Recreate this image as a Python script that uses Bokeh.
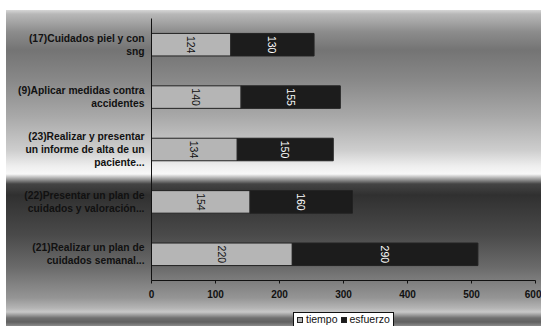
from bokeh.plotting import figure
from bokeh.models import Range1d, FactorRange, ColumnDataSource, SingleIntervalTicker, Div
from bokeh.layouts import column
from bokeh.embed import file_html
from bokeh.resources import INLINE
from bokeh.core.properties import value
import math

categories = [
    "(17)Cuidados piel y con\nsng",
    "(9)Aplicar medidas contra\naccidentes",
    "(23)Realizar y presentar\nun informe de alta de un\npaciente...",
    "(22)Presentar un plan de\ncuidados y valoración...",
    "(21)Realizar un plan de\ncuidados semanal...",
]
tiempo = [124, 140, 134, 154, 220]
esfuerzo = [130, 155, 150, 160, 290]
series_names = ["tiempo", "esfuerzo"]
series_colors = ["#b5b5b5", "#1c1c1c"]
x_ticks_interval = 100

FONT = "Liberation Sans"

src = ColumnDataSource(dict(
    cat=categories,
    tiempo=tiempo,
    esfuerzo=esfuerzo,
    t_mid=[t / 2 for t in tiempo],
    e_mid=[t + e / 2 for t, e in zip(tiempo, esfuerzo)],
    t_lab=[str(t) for t in tiempo],
    e_lab=[str(e) for e in esfuerzo],
))

p = figure(
    width=541, height=310,
    y_range=FactorRange(factors=list(reversed(categories))),
    x_range=Range1d(0, 600),
    output_backend="svg", toolbar_location=None,
    min_border_left=151, min_border_right=6, min_border_top=18, min_border_bottom=30,
)
p.border_fill_color = None
p.background_fill_color = None
p.outline_line_color = None

r = p.hbar_stack(
    ["tiempo", "esfuerzo"], y="cat", height=0.43, source=src,
    color=series_colors, line_color="#222222", line_width=1,
)

p.text(x="t_mid", y="cat", text="t_lab", source=src, angle=-math.pi / 2,
       text_align="center", text_baseline="middle", text_color="#111111",
       text_font=value(FONT), text_font_size="10.5px")
p.text(x="e_mid", y="cat", text="e_lab", source=src, angle=-math.pi / 2,
       text_align="center", text_baseline="middle", text_color="#ffffff",
       text_font=value(FONT), text_font_size="10.5px")

p.xgrid.visible = False
p.ygrid.visible = False

p.xaxis.ticker = SingleIntervalTicker(interval=x_ticks_interval)
p.xaxis.axis_line_color = "#111111"
p.xaxis.major_tick_line_color = "#111111"
p.xaxis.major_tick_in = 0
p.xaxis.major_tick_out = 3
p.xaxis.minor_tick_line_color = None
p.xaxis.major_label_standoff = 5
p.xaxis.major_label_text_font = FONT
p.xaxis.major_label_text_font_style = "bold"
p.xaxis.major_label_text_font_size = "10px"
p.xaxis.major_label_text_color = "#111111"

p.yaxis.axis_line_color = "#111111"
p.yaxis.major_tick_line_color = None
p.yaxis.major_tick_in = 0
p.yaxis.major_tick_out = 0
p.yaxis.major_label_standoff = 7
p.yaxis.major_label_text_font = FONT
p.yaxis.major_label_text_font_style = "bold"
p.yaxis.major_label_text_font_size = "10.3px"
p.yaxis.major_label_text_color = "#111111"

sw = ("display:inline-block;width:6px;height:6px;border:1px solid #222;"
      "margin:0 3px 0 0;vertical-align:0px;background:{c};")
items_html = "".join(
    f'<span style="{sw.format(c=c)}"></span><span style="margin-right:3px">{n}</span>'
    for n, c in zip(series_names, series_colors)
)
legend_html = (
    f'<div style="margin:2px 0 0 293px;display:inline-block;background:#ffffff;'
    f'border:1px solid #111;padding:0 0 0 3px;font-family:\'{FONT}\';font-size:10.5px;'
    f'line-height:13px;color:#111;white-space:nowrap;">{items_html}</div>'
)
legend_div = Div(text=legend_html, width=541, height=16, margin=0)

layout = column(p, legend_div, spacing=0)
layout.styles = {
    "background": (
        "linear-gradient(to right, #ffffff 0px, #ffffff 6px, rgba(255,255,255,0) 6px), "
        "linear-gradient(to bottom, #ffffff 0px, #ffffff 10px, #d6d6d6 10px, #b8b8b8 14px, "
        "#8c8c8c 32px, #747474 50px, #888888 80px, #a9a9a9 117px, #cdcdcd 150px, "
        "#eeeeee 166px, #f8f8f8 174px, #a0a0a0 179px, #444444 184px, #303030 195px, "
        "#3a3a3a 210px, #4a4a4a 235px, #6a6a6a 267px, #959595 298px, #b4b4b4 308px, "
        "#c8c8c8 312px, #707070 318px, #606060 322px, #8a8a8a 326px)"
    )
}

open("out.html", "w").write(file_html(layout, INLINE))
